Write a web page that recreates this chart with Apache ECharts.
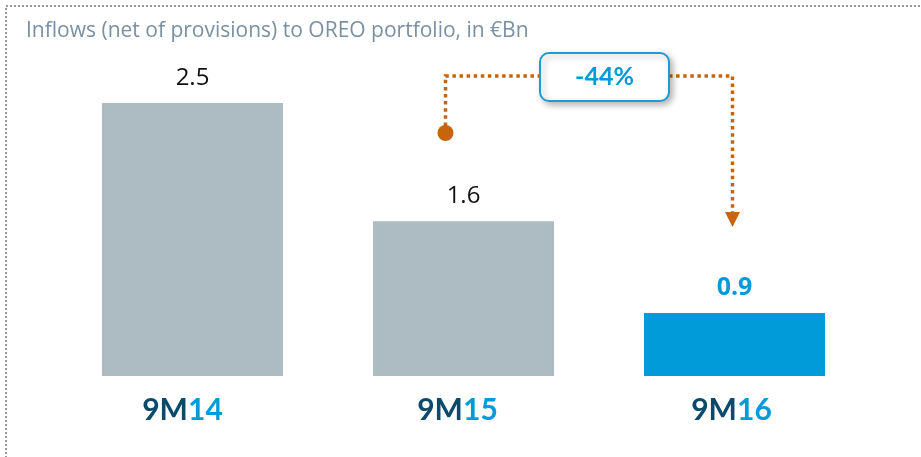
<!DOCTYPE html>
<html>
<head>
<meta charset="utf-8">
<script src="https://cdn.jsdelivr.net/npm/echarts@6/dist/echarts.min.js"></script>
<style>
  html, body { margin: 0; padding: 0; background: #ffffff; }
  #chart { width: 921px; height: 457px; }
</style>
</head>
<body>
<div id="chart"></div>
<script>
// Period labels split into prefix / year suffix for two-tone rendering
const periods = ['9M14', '9M15', '9M16'];
const periodPrefix = ['9M', '9M', '9M'];
const periodYear = ['14', '15', '16'];
// OREO inflows, net of provisions, €Bn
const inflows = [2.5, 1.6, 0.9];
const changeLabel = '-44%';
const titleText = 'Inflows (net of provisions) to OREO portfolio, in €Bn';

const GREY = '#adbbc2';
const BLUE = '#009bd8';
const NAVY = '#0b4a6b';
const ORANGE = '#c8640c';
const FONT = '"Open Sans", Lato, sans-serif';
const BOLD_FONT = 'Lato, "Open Sans", sans-serif';

const chart = echarts.init(document.getElementById('chart'));

const barData = inflows.map((v, i) => {
  const last = i === inflows.length - 1;
  return {
    value: v,
    itemStyle: { color: last ? BLUE : GREY },
    label: last
      ? { color: BLUE, fontWeight: 'bold', fontSize: 25 }
      : { color: '#111111', fontWeight: 'normal' }
  };
});

// trailing spacers nudge each period label slightly left of its bar centre
const labelRich = {
  a: { color: NAVY, fontSize: 30, fontWeight: 'bold', fontFamily: BOLD_FONT },
  b: { color: BLUE, fontSize: 30, fontWeight: 'bold', fontFamily: BOLD_FONT },
  s0: { width: 20 },
  s1: { width: 12 },
  s2: { width: 6 }
};

chart.setOption({
  animation: false,
  backgroundColor: '#ffffff',
  title: {
    text: titleText,
    left: 21,
    top: 16,
    textStyle: { color: '#7a90a3', fontSize: 21, fontWeight: 'normal', fontFamily: FONT }
  },
  grid: { left: 57, right: 51, top: 103, bottom: 81 },
  xAxis: {
    type: 'category',
    data: periods,
    axisLine: { show: false },
    axisTick: { show: false },
    axisLabel: {
      margin: 19,
      formatter: (val, idx) =>
        '{a|' + periodPrefix[idx] + '}{b|' + periodYear[idx] + '}{s' + idx + '|}',
      rich: labelRich
    }
  },
  yAxis: {
    type: 'value',
    min: 0.42,
    max: 2.5,
    show: false,
    splitLine: { show: false }
  },
  series: [{
    type: 'bar',
    data: barData,
    barWidth: 181,
    label: {
      show: true,
      position: 'top',
      distance: 13,
      fontSize: 24,
      fontFamily: FONT,
      formatter: p => p.value.toFixed(1)
    }
  }]
});

// Annotation: dotted connector from the 9M15 bar to the 9M16 bar with a change bubble
function drawAnnotation() {
  const p2 = chart.convertToPixel({ xAxisIndex: 0, yAxisIndex: 0 }, [1, inflows[1]]);
  const p3 = chart.convertToPixel({ xAxisIndex: 0, yAxisIndex: 0 }, [2, inflows[2]]);
  const startX = p2[0] - 18;
  const dotY = 133;
  const lineY = 76;
  const endX = p3[0] - 2;
  const arrowTop = 212;
  const bubble = { x: 540, y: 53, w: 129, h: 48 };
  const dotted = { stroke: ORANGE, lineWidth: 3.5, lineDash: [3.5, 3.6] };

  chart.setOption({
    graphic: [
      // dotted frame around the panel (top and left edges visible)
      {
        type: 'rect', silent: true,
        shape: { x: 6, y: 6, width: 940, height: 480 },
        style: { fill: 'none', stroke: '#999999', lineWidth: 2, lineDash: [2, 2] }
      },
      {
        type: 'polyline', silent: true,
        shape: { points: [[startX, dotY], [startX, lineY], [bubble.x, lineY]] },
        style: dotted
      },
      {
        type: 'polyline', silent: true,
        shape: { points: [[bubble.x + bubble.w, lineY], [endX, lineY], [endX, arrowTop]] },
        style: dotted
      },
      {
        type: 'circle', silent: true,
        shape: { cx: startX, cy: dotY, r: 8 },
        style: { fill: ORANGE }
      },
      {
        type: 'polygon', silent: true,
        shape: { points: [[endX - 7.5, arrowTop], [endX + 7.5, arrowTop], [endX, arrowTop + 15]] },
        style: { fill: ORANGE }
      },
      {
        type: 'rect', silent: true,
        shape: { x: bubble.x, y: bubble.y, width: bubble.w, height: bubble.h, r: 9 },
        style: {
          fill: '#ffffff', stroke: '#1c9bd6', lineWidth: 2,
          shadowBlur: 6, shadowOffsetX: 3, shadowOffsetY: 3, shadowColor: 'rgba(0,0,0,0.28)'
        }
      },
      {
        type: 'text', silent: true,
        x: bubble.x + bubble.w / 2, y: bubble.y + bubble.h / 2,
        style: {
          text: changeLabel, fill: BLUE, fontSize: 25, fontWeight: 'bold', fontFamily: BOLD_FONT,
          align: 'center', verticalAlign: 'middle'
        }
      }
    ]
  });
}
drawAnnotation();
</script>
</body>
</html>
